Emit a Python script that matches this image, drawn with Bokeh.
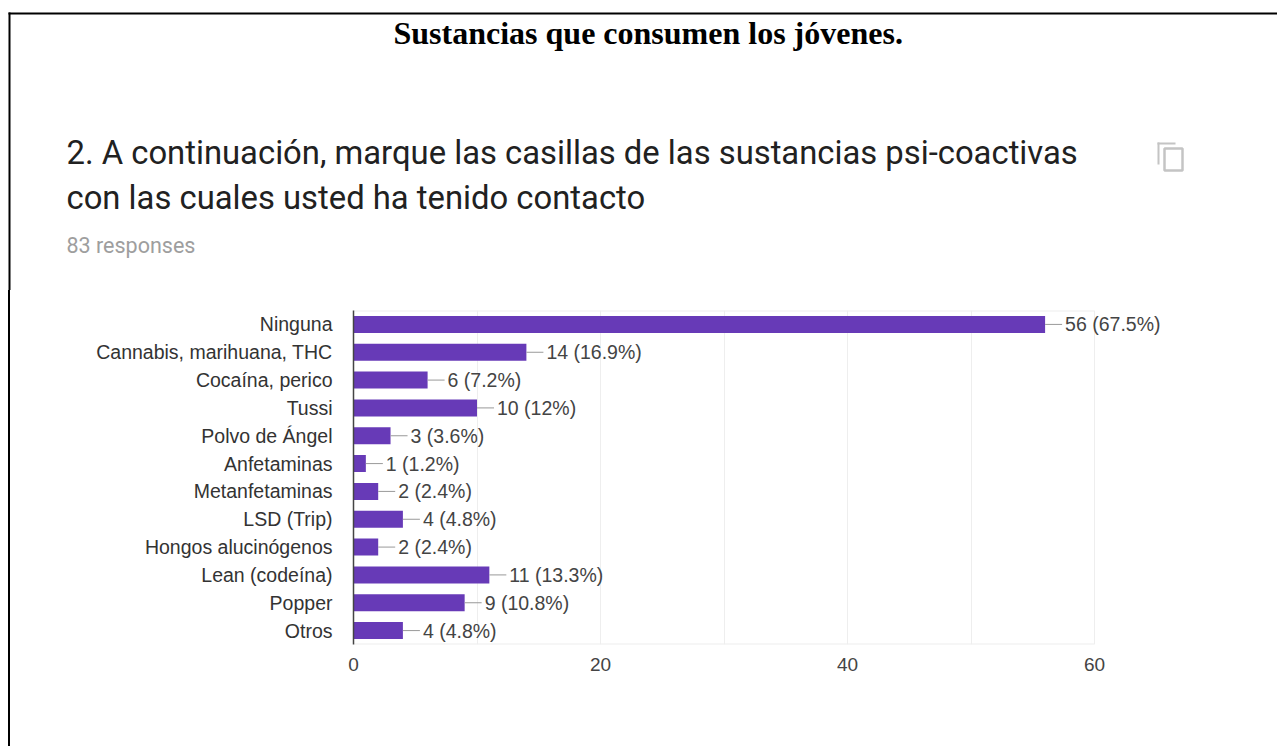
from bokeh.embed import file_html
from bokeh.resources import INLINE
from bokeh.plotting import figure
from bokeh.layouts import column, row
from bokeh.core.properties import value
from bokeh.models import ColumnDataSource, FactorRange, Range1d, FixedTicker, LabelSet, Div

categories = ["Ninguna", "Cannabis, marihuana, THC", "Cocaína, perico", "Tussi", "Polvo de Ángel",
              "Anfetaminas", "Metanfetaminas", "LSD (Trip)", "Hongos alucinógenos",
              "Lean (codeína)", "Popper", "Otros"]
counts = [56, 14, 6, 10, 3, 1, 2, 4, 2, 11, 9, 4]
percents = ["67.5%", "16.9%", "7.2%", "12%", "3.6%", "1.2%", "2.4%", "4.8%", "2.4%", "13.3%", "10.8%", "4.8%"]
x_ticks = [0, 20, 40, 60]
grid_ticks = [0, 10, 20, 30, 40, 50, 60]
x_max = 60
heading = "Sustancias que consumen los jóvenes."
question_1 = "2. A continuación, marque las casillas de las sustancias psi-coactivas"
question_2 = "con las cuales usted ha tenido contacto"
responses = "83 responses"

W, H = 1277, 746
HEAD_H = 290                    # height of the header strip
STRIP_W = 10                    # width of the strip that carries the left border
FL, FT, FB = 353, 310, 644      # plot-area edges in page pixels
PX = (1094 - FL) / x_max        # pixels per unit

# ---- header: heading, question, response count, copy icon, top border
head = figure(width=W, height=HEAD_H, output_backend="svg", toolbar_location=None,
              x_range=Range1d(0, W), y_range=Range1d(HEAD_H, 0),
              x_axis_location=None, y_axis_location=None, min_border=0,
              background_fill_color="white", border_fill_color="white")
head.outline_line_color = None
head.grid.visible = False


def put_text(txt, x, y, font, size, color, style="normal"):
    head.text(x=[x], y=[y], text=[txt], text_font=value(font), text_font_size=value(size),
              text_color=color, text_font_style=style, text_baseline="middle", text_align="left")


put_text(heading, 393, 32.5, "Liberation Serif", "32px", "#000000", "bold")
put_text(question_1, 66, 152, "Roboto", "32.8px", "#212121")
put_text(question_2, 66, 197, "Roboto", "32.8px", "#212121")
put_text(responses, 66, 245, "Roboto", "21.5px", "#9e9e9e")

head.quad(left=[8, 8], right=[W, 10], top=[12, 12], bottom=[14, HEAD_H], fill_color="#000000", line_color=None)
head.quad(left=[1164], right=[1182], top=[148], bottom=[170], fill_color=None, line_color="#c4c4c4", line_width=2.5)
head.quad(left=[1157, 1157], right=[1159, 1175], top=[142, 142], bottom=[164, 144],
          fill_color="#c4c4c4", line_color=None)

# ---- left border beside the chart
strip = Div(text="", width=2, height=H - HEAD_H, margin=(0, 0, 0, 8),
            styles={"background-color": "#000000"})

# ---- chart
p = figure(width=W - STRIP_W, height=H - HEAD_H, output_backend="svg", toolbar_location=None,
           x_range=Range1d(0, (W - FL) / PX),
           y_range=FactorRange(factors=categories[::-1], range_padding=0),
           min_border_left=FL - STRIP_W, min_border_right=0,
           min_border_top=FT - HEAD_H, min_border_bottom=H - FB,
           background_fill_color="white", border_fill_color="white")

p.outline_line_color = None
p.ygrid.visible = False
p.xgrid.ticker = FixedTicker(ticks=grid_ticks)
p.xgrid.grid_line_color = "#eeeeee"
p.xgrid.grid_line_width = 1

p.xaxis.ticker = FixedTicker(ticks=x_ticks)
p.xaxis.axis_line_color = None
p.xaxis.major_tick_line_color = None
p.xaxis.minor_tick_line_color = None
p.xaxis.major_label_text_font = "Liberation Sans"
p.xaxis.major_label_text_font_size = "19px"
p.xaxis.major_label_text_color = "#444444"
p.xaxis.major_label_standoff = 7

p.yaxis.axis_line_color = "#444444"
p.yaxis.axis_line_width = 1.5
p.yaxis.major_tick_line_color = None
p.yaxis.minor_tick_line_color = None
p.yaxis.major_label_text_font = "Liberation Sans"
p.yaxis.major_label_text_font_size = "19.5px"
p.yaxis.major_label_text_color = "#333333"
p.yaxis.major_label_standoff = 15

# light frame lines above and below the plot area
p.segment(x0=[0, 0], x1=[x_max, x_max], y0=[0, len(categories)], y1=[0, len(categories)],
          line_color="#eeeeee", line_width=2)

src = ColumnDataSource(dict(cat=categories, count=counts,
                            label=[f"{c} ({q})" for c, q in zip(counts, percents)]))
p.hbar(y="cat", left=0, right="count", height=0.61, source=src,
       fill_color="#673ab7", line_color=None)

for c, k in zip(categories, counts):
    # short leader between the bar end and its value label (17 px in chart units)
    p.segment(x0=[k], x1=[k + 17 / PX], y0=[c], y1=[c], line_color="#999999", line_width=1)

p.add_layout(LabelSet(x="count", y="cat", text="label", source=src, x_offset=20, y_offset=0,
                      text_font=value("Liberation Sans"), text_font_size="19.5px", text_color="#444444",
                      text_baseline="middle"))

page = column(head, row(strip, p, spacing=0), spacing=0)
open("out.html", "w").write(file_html(page, INLINE))
